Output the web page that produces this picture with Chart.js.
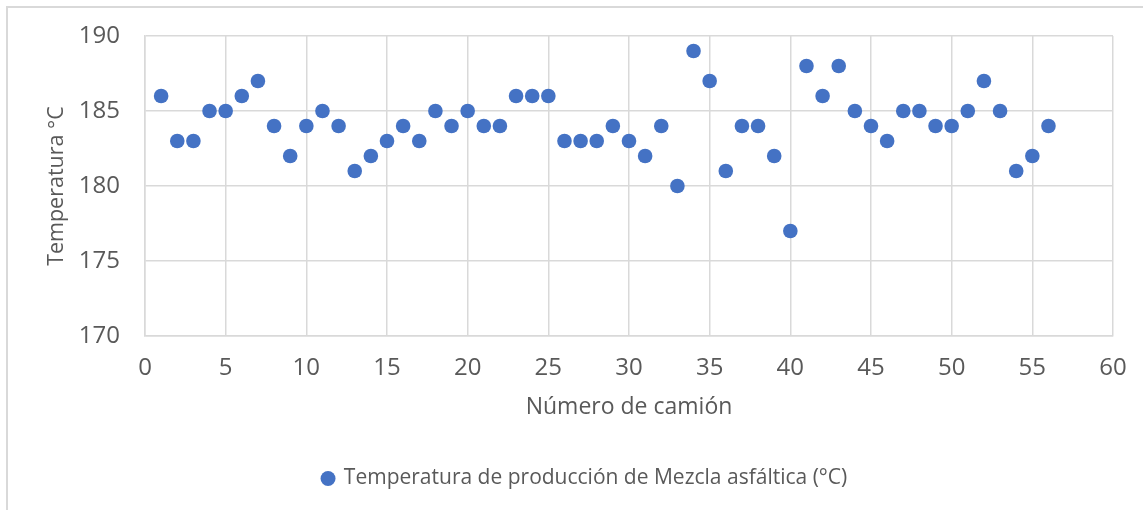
<!DOCTYPE html>
<html>
<head>
<meta charset="utf-8">
<script src="https://cdn.jsdelivr.net/npm/chart.js@4"></script>
<style>
  html, body { margin: 0; padding: 0; background: #fff; }
  #wrap { position: relative; width: 1143px; height: 510px; overflow: hidden; }
  #frame { position: absolute; left: 6px; top: 6px; width: 1200px; height: 600px;
           border-left: 2px solid #d9d9d9; border-top: 2px solid #d9d9d9; }
  canvas { position: absolute; left: 0; top: 0; }
</style>
</head>
<body>
<div id="wrap">
  <div id="frame"></div>
  <canvas id="tempChart" width="1143" height="510"></canvas>
</div>
<script>
// Datos: número de camión y temperatura de producción
var camiones = [];
for (var i = 1; i <= 56; i++) { camiones.push(i); }

var temperaturas = [186,183,183,185,185,186,187,184,182,184,
                    185,184,181,182,183,184,183,185,184,185,
                    184,184,186,186,186,183,183,183,184,183,
                    182,184,180,189,187,181,184,184,182,177,
                    188,186,188,185,184,183,185,185,184,184,
                    185,187,185,181,182,184];

var serieNombre = 'Temperatura de producción de Mezcla asfáltica (°C)';
var tituloX = 'Número de camión';
var tituloY = 'Temperatura °C';

var puntos = camiones.map(function(c, idx){
  return { x: c, y: temperaturas[idx] };
});

var fuente = "'Open Sans', sans-serif";
var gris = '#595959';
var lineaGrid = '#d9d9d9';

var ctx = document.getElementById('tempChart').getContext('2d');
var tempChart = new Chart(ctx, {
  type: 'scatter',
  data: {
    datasets: [{
      label: serieNombre,
      data: puntos,
      backgroundColor: '#4472c4',
      borderColor: '#4472c4',
      pointRadius: 7.3,
      pointHoverRadius: 7.3,
      borderWidth: 0
    }]
  },
  options: {
    responsive: false,
    animation: false,
    layout: { padding: { left: 57, right: 30, top: 36, bottom: 11 } },
    plugins: {
      tooltip: { enabled: false },
      legend: {
        position: 'bottom',
        labels: {
          usePointStyle: true,
          pointStyle: 'circle',
          boxWidth: 10.6,
          boxHeight: 10.6,
          padding: 10,
          color: gris,
          font: { family: fuente, size: 21 }
        }
      }
    },
    scales: {
      x: {
        type: 'linear',
        min: 0, max: 60,
        ticks: { stepSize: 5, color: gris, padding: 18, font: { family: fuente, size: 24 } },
        grid: { color: lineaGrid, lineWidth: 1.5, drawTicks: false },
        border: { color: lineaGrid, width: 1.5 },
        title: { display: true, text: tituloX, color: gris,
                 font: { family: fuente, size: 23 }, padding: { top: 10, bottom: 37 } },
        afterFit: function(scale){
          scale.height = 122;
          scale.paddingLeft = 0;
          scale.paddingRight = 0;
        }
      },
      y: {
        min: 170, max: 190,
        ticks: { stepSize: 5, color: gris, padding: 25, font: { family: fuente, size: 24 } },
        grid: { color: lineaGrid, lineWidth: 1.5, drawTicks: false },
        border: { color: lineaGrid, width: 1.5 },
        title: { display: true, text: tituloY, color: gris,
                 font: { family: fuente, size: 21.5 }, padding: { top: -13, bottom: 0 } },
        afterFit: function(scale){
          scale.width = 88;
          scale.paddingTop = 0;
          scale.paddingBottom = 0;
        }
      }
    }
  }
});
</script>
</body>
</html>
